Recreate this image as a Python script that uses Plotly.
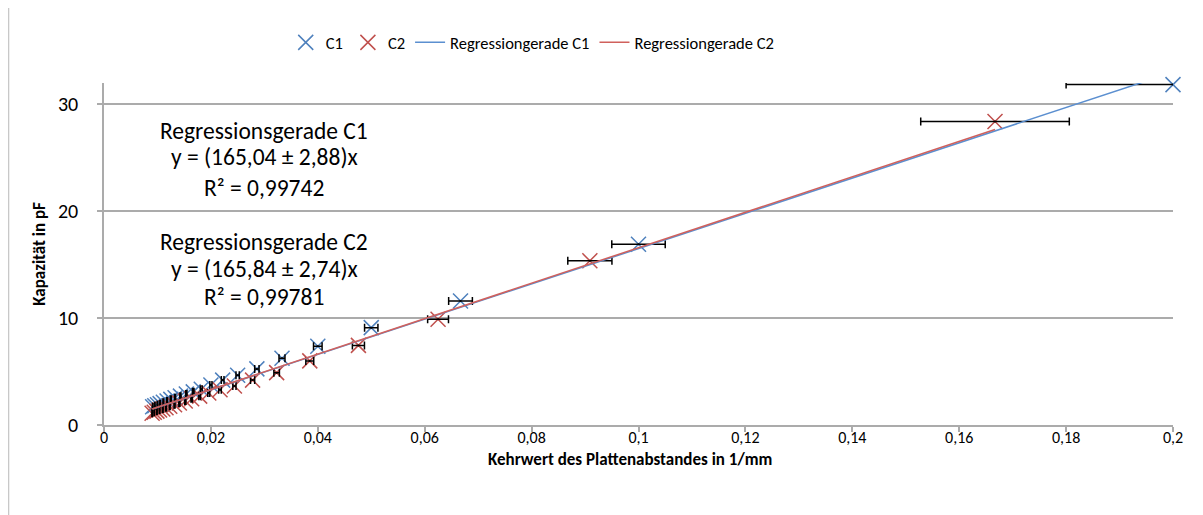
import plotly.graph_objects as go

# ---- data ----
c1_x = [0.2, 0.1, 0.0667, 0.05, 0.04, 0.0333, 0.0286, 0.025, 0.0222, 0.02, 0.0182,
        0.0167, 0.0154, 0.0143, 0.0133, 0.0125, 0.0118, 0.0111, 0.0105, 0.01, 0.0095, 0.0091]
c1_y = [31.85, 16.92, 11.61, 9.11, 7.36, 6.25, 5.25, 4.65, 4.2, 3.75, 3.35,
        3.1, 2.9, 2.7, 2.55, 2.4, 2.25, 2.12, 2.0, 1.9, 1.8, 1.7]
c1_err = [0.02, 0.005, 0.00222, 0.00125, 0.0008, 0.00056, 0.00041, 0.00031, 0.00025, 0.0002, 0.00017,
          0.00014, 0.00012, 0.0001, 0.00009, 0.00008, 0.00007, 0.00006, 0.000055, 0.00005, 0.000045, 0.00004]

c2_x = [0.1667, 0.0909, 0.0625, 0.0476, 0.0385, 0.0323, 0.0278, 0.0244, 0.0217, 0.0196, 0.0179,
        0.0164, 0.0152, 0.0141, 0.0132, 0.0123, 0.0116, 0.011, 0.0104, 0.0099, 0.0094, 0.009]
c2_y = [28.4, 15.36, 9.9, 7.45, 6.0, 4.9, 4.2, 3.65, 3.3, 3.0, 2.7,
        2.45, 2.25, 2.05, 1.9, 1.75, 1.62, 1.5, 1.4, 1.3, 1.2, 1.1]
c2_err = [0.0139, 0.00413, 0.00195, 0.00113, 0.00074, 0.00052, 0.00039, 0.0003, 0.00024, 0.00019, 0.00016,
          0.00013, 0.00011, 0.0001, 0.000087, 0.000076, 0.000068, 0.00006, 0.000054, 0.00005, 0.000045, 0.00004]

slopes = {"C1": 165.04, "C2": 165.84}
slope_err = {"C1": 2.88, "C2": 2.74}
r2 = {"C1": "0,99742", "C2": "0,99781"}

x_ticks = [0, 0.02, 0.04, 0.06, 0.08, 0.1, 0.12, 0.14, 0.16, 0.18, 0.2]
y_ticks = [0, 10, 20, 30]

x_title = "Kehrwert des Plattenabstandes in 1/mm"
y_title = "Kapazität in pF"

BLUE = "#4F81BD"
RED = "#C0504D"
BLUE_LINE = "#5B8FD0"
RED_LINE = "#D0605C"
GRID = "#ABABAB"
FONT = "Calibri, Carlito, Lato, sans-serif"

fig = go.Figure()

# markers
for name, xs, ys, col in [("C1", c1_x, c1_y, BLUE), ("C2", c2_x, c2_y, RED)]:
    fig.add_trace(go.Scatter(
        x=xs, y=ys, mode="markers", name=name, cliponaxis=False,
        marker=dict(symbol="x-thin", size=15, color=col, line=dict(color=col, width=1.5)),
    ))

# error bars (drawn on top, clipped to plot area)
for xs, ys, errs in [(c1_x, c1_y, c1_err), (c2_x, c2_y, c2_err)]:
    fig.add_trace(go.Scatter(
        x=xs, y=ys, mode="markers", showlegend=False, hoverinfo="skip", cliponaxis=True,
        marker=dict(size=2, color="black", opacity=0.9),
        error_x=dict(type="data", array=errs, color="black", thickness=1.5, width=4),
    ))

# regression lines through origin
for name, xs, col in [("C1", c1_x, BLUE_LINE), ("C2", c2_x, RED_LINE)]:
    lx = [min(xs), max(xs)]
    ly = [slopes[name] * v for v in lx]
    fig.add_trace(go.Scatter(
        x=lx, y=ly, mode="lines", name="Regressiongerade " + name,
        line=dict(color=col, width=1.5),
    ))

# regression annotations
ann_lines = []
for name in ["C1", "C2"]:
    ann_lines.append([
        "Regressionsgerade " + name,
        "y = (" + f"{slopes[name]:.2f}".replace(".", ",") + " ± " + f"{slope_err[name]:.2f}".replace(".", ",") + ")x",
        "R² = " + r2[name],
    ])
ann_y = [[0.861, 0.785, 0.694], [0.536, 0.456, 0.375]]
for block, ys in zip(ann_lines, ann_y):
    for txt, yy in zip(block, ys):
        fig.add_annotation(x=0.150, y=yy, xref="paper", yref="paper", text=txt,
                           showarrow=False, xanchor="center", yanchor="middle",
                           font=dict(family=FONT, size=23.5, color="black"))

# x axis title
fig.add_annotation(x=0.492, y=-0.1, xref="paper", yref="paper", text="<b>" + x_title + "</b>",
                   showarrow=False, xanchor="center", yanchor="middle",
                   font=dict(family=FONT, size=17, color="black"))

# chart border (left edge visible)
fig.add_shape(type="line", xref="paper", yref="paper", x0=-0.0893, x1=-0.0893, y0=-0.3, y1=1.3,
              line=dict(color="#C8C8C8", width=1.5))

fig.update_layout(
    width=1203, height=515,
    margin=dict(l=96, r=38, t=75, b=98),
    paper_bgcolor="white", plot_bgcolor="white",
    separators=", ",
    font=dict(family=FONT, size=17, color="black"),
    showlegend=True,
    legend=dict(orientation="h", x=0.17, y=1.118, xanchor="left", yanchor="middle",
                font=dict(family=FONT, size=16.5), traceorder="normal"),
    xaxis=dict(range=[0, 0.2], tickvals=x_ticks, showgrid=False, zeroline=False,
               showline=True, linecolor=GRID, linewidth=1.5,
               ticks="outside", ticklen=5, tickcolor=GRID, tickwidth=1.5,
               ticklabelstandoff=-8,
               tickfont=dict(family=FONT, size=16)),
    yaxis=dict(range=[0, 32], tickvals=y_ticks, showgrid=True, gridcolor=GRID, gridwidth=1.5,
               zeroline=False, showline=True, linecolor=GRID, linewidth=1.5,
               ticks="outside", ticklen=5, tickcolor=GRID, tickwidth=1.5,
               ticklabelstandoff=15,
               tickfont=dict(family=FONT, size=20),
               title=dict(text="<b>" + y_title + "</b>", font=dict(family=FONT, size=17), standoff=8)),
)

fig.write_html("out.html")
